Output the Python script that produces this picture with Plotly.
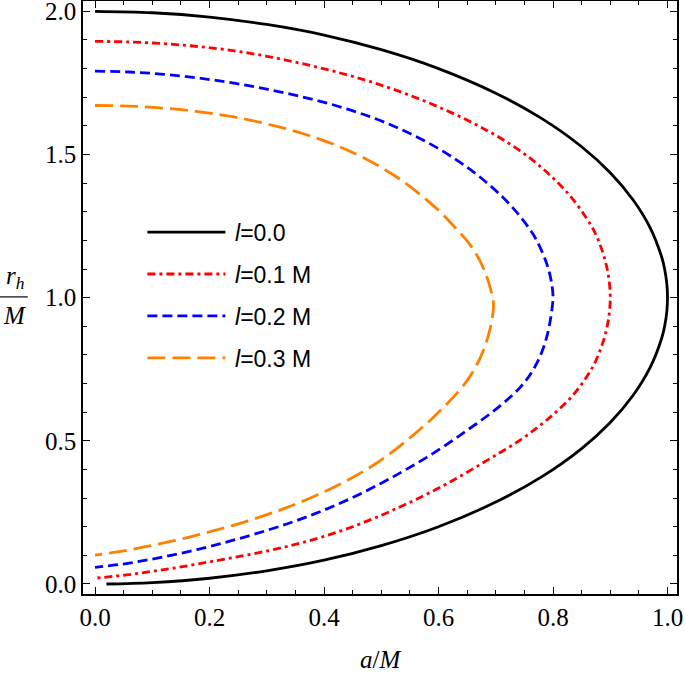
import plotly.graph_objects as go

# ---- data (a/M, r_h/M) ----
labels = ["\u2009<i>l</i>=0.0", "\u2009<i>l</i>=0.1 M", "\u2009<i>l</i>=0.2 M", "\u2009<i>l</i>=0.3 M"]

a_l00 = [0.00, 0.10, 0.20, 0.30, 0.40, 0.50, 0.60, 0.70, 0.78, 0.85, 0.90, 0.94, 0.97, 0.99, 0.995, 0.999, 1.00,
         0.999, 0.995, 0.99, 0.97, 0.94, 0.90, 0.85, 0.78, 0.70, 0.60, 0.50, 0.40, 0.30, 0.20, 0.10, 0.02]
r_l00 = [2.000, 1.995, 1.980, 1.954, 1.917, 1.866, 1.800, 1.714, 1.626, 1.527, 1.436, 1.341, 1.243, 1.141, 1.100, 1.045, 1.000,
         0.955, 0.900, 0.859, 0.757, 0.659, 0.564, 0.473, 0.374, 0.286, 0.200, 0.134, 0.083, 0.046, 0.020, 0.005, 0.000]

a_l01 = [0.00, 0.06, 0.12, 0.18, 0.24, 0.30, 0.36, 0.42, 0.48, 0.54, 0.60, 0.66, 0.71, 0.76, 0.80, 0.83, 0.855, 0.872,
         0.884, 0.893, 0.898, 0.900,
         0.898, 0.893, 0.884, 0.872, 0.855, 0.833, 0.805, 0.775, 0.74, 0.70, 0.66, 0.62, 0.58, 0.54, 0.50, 0.45, 0.40,
         0.35, 0.30, 0.24, 0.18, 0.12, 0.06, 0.00]
r_l01 = [1.895, 1.893, 1.887, 1.877, 1.863, 1.843, 1.818, 1.789, 1.755, 1.714, 1.666, 1.610, 1.555, 1.487, 1.418, 1.355, 1.288, 1.232,
         1.175, 1.115, 1.060, 1.000,
         0.940, 0.885, 0.825, 0.768, 0.712, 0.655, 0.600, 0.550, 0.499, 0.450, 0.402, 0.356, 0.314, 0.276, 0.240, 0.200, 0.166,
         0.138, 0.115, 0.092, 0.070, 0.050, 0.033, 0.020]

a_l02 = [0.00, 0.06, 0.12, 0.18, 0.24, 0.30, 0.36, 0.42, 0.48, 0.53, 0.58, 0.63, 0.67, 0.71, 0.74, 0.765, 0.781, 0.792,
         0.798, 0.800,
         0.796, 0.790, 0.782, 0.772, 0.760, 0.745, 0.725, 0.70, 0.675, 0.65, 0.62, 0.58, 0.54, 0.50, 0.45, 0.40, 0.35,
         0.30, 0.24, 0.18, 0.12, 0.06, 0.00]
r_l02 = [1.791, 1.788, 1.780, 1.767, 1.750, 1.728, 1.702, 1.671, 1.632, 1.592, 1.543, 1.483, 1.425, 1.355, 1.290, 1.222, 1.160, 1.100,
         1.045, 1.000,
         0.930, 0.870, 0.818, 0.772, 0.731, 0.692, 0.652, 0.610, 0.572, 0.537, 0.495, 0.443, 0.396, 0.352, 0.302, 0.258, 0.220,
         0.187, 0.152, 0.121, 0.095, 0.073, 0.058]

a_l03 = [0.00, 0.06, 0.12, 0.18, 0.24, 0.30, 0.36, 0.42, 0.47, 0.52, 0.56, 0.60, 0.63, 0.655, 0.672, 0.684, 0.691,
         0.696,
         0.695, 0.690, 0.681, 0.668, 0.648, 0.62, 0.59, 0.56, 0.525, 0.49, 0.45, 0.41, 0.37, 0.33, 0.29, 0.24, 0.19,
         0.14, 0.09, 0.045, 0.00]
r_l03 = [1.671, 1.669, 1.662, 1.650, 1.632, 1.607, 1.575, 1.533, 1.488, 1.430, 1.373, 1.305, 1.243, 1.185, 1.130, 1.075, 1.030,
         0.980,
         0.945, 0.890, 0.830, 0.770, 0.705, 0.640, 0.580, 0.527, 0.470, 0.420, 0.372, 0.331, 0.295, 0.263, 0.235, 0.204, 0.177,
         0.152, 0.131, 0.114, 0.101]

x_ticks = [0.0, 0.2, 0.4, 0.6, 0.8, 1.0]
y_ticks = [0.0, 0.5, 1.0, 1.5, 2.0]

series = [(a_l00, r_l00), (a_l01, r_l01), (a_l02, r_l02), (a_l03, r_l03)]
colors = ["black", "rgb(255,0,0)", "rgb(0,0,255)", "rgb(255,128,0)"]
dashes = ["solid", "8px,4px,3px,4px", "10px,5px", "18px,7px"]

fig = go.Figure()
for i, ((a, r), lab) in enumerate(zip(series, labels)):
    fig.add_trace(go.Scatter(
        x=a, y=r, mode="lines", name=lab, legendgroup=f"g{i}",
        line=dict(color=colors[i], width=2.8, dash=dashes[i], shape="spline", smoothing=1.0),
    ))

serif = "Liberation Serif"
axis_common = dict(
    showline=True, linecolor="black", linewidth=1.5, mirror="ticks",
    ticks="inside", ticklen=7, tickwidth=1.3, tickcolor="black",
    showgrid=False, zeroline=False, automargin=False,
    tickfont=dict(family=serif, size=25, color="black"),
    tickformat=".1f", ticklabelstandoff=0, ticklabeloverflow="allow",
)

fig.update_xaxes(
    range=[-0.021, 1.0166], tickvals=x_ticks,
    minor=dict(ticks="inside", ticklen=4, tickwidth=1.1, tickcolor="black", dtick=0.05, showgrid=False),
    **axis_common,
)
fig.update_yaxes(
    range=[-0.035, 2.036], tickvals=y_ticks,
    minor=dict(ticks="inside", ticklen=4, tickwidth=1.1, tickcolor="black", dtick=0.1, showgrid=False),
    **axis_common,
)

# x-axis title
fig.add_annotation(text="<i>a</i>/<i>M</i>", xref="paper", yref="paper",
                   x=0.50, y=-0.111, xanchor="center", yanchor="middle", showarrow=False,
                   font=dict(family=serif, size=25, color="black"))
# y-axis label as a fraction r_h / M
fig.add_annotation(text="<i>r<sub>h</sub></i>", xref="paper", yref="paper",
                   x=-0.113, y=0.533, xanchor="center", yanchor="middle", showarrow=False,
                   font=dict(family=serif, size=25, color="black"))
fig.add_annotation(text="<i>M</i>", xref="paper", yref="paper",
                   x=-0.116, y=0.469, xanchor="center", yanchor="middle", showarrow=False,
                   font=dict(family=serif, size=25, color="black"))
fig.add_shape(type="line", xref="paper", yref="paper", x0=-0.140, x1=-0.093, y0=0.501, y1=0.501,
              line=dict(color="black", width=1.2))

fig.update_layout(
    width=685, height=673,
    margin=dict(l=83, r=8, t=1, b=79),
    plot_bgcolor="white", paper_bgcolor="white",
    font=dict(family=serif, color="black"),
    showlegend=True,
    legend=dict(
        x=0.1, y=0.6465, xanchor="left", yanchor="top",
        bgcolor="rgba(0,0,0,0)", itemwidth=78, tracegroupgap=9,
        traceorder="grouped",
        font=dict(family="Liberation Sans", size=23, color="black"),
    ),
)

fig.write_html("out.html", config={"displayModeBar": False},
               post_script="document.body.style.margin='0px';")
